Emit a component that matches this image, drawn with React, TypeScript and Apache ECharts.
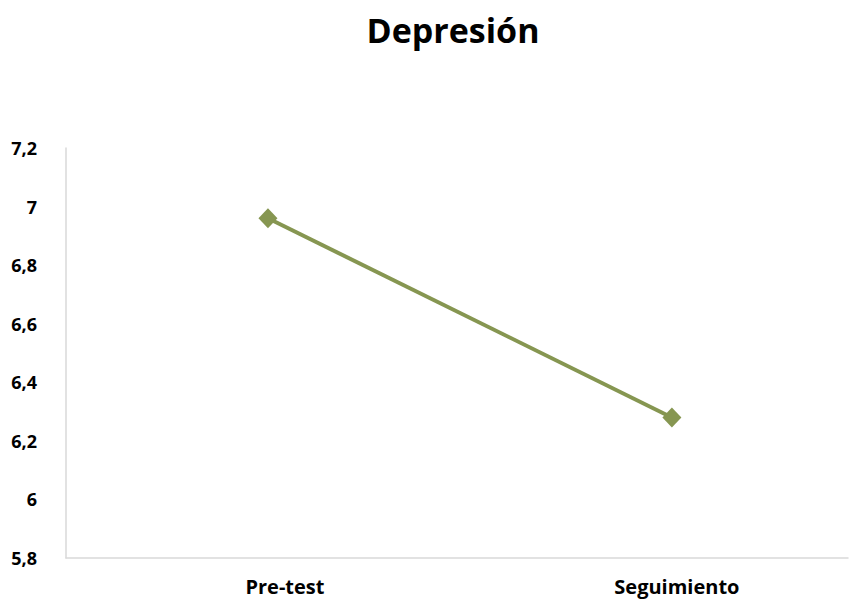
import React, { useEffect, useRef } from "react";
import * as echarts from "echarts";

const categories = ["Pre-test", "Seguimiento"];
const values = [6.96, 6.28];
const yTicks = { min: 5.8, max: 7.2, step: 0.2 };
const title = "Depresión";

export default function App() {
  const ref = useRef<HTMLDivElement>(null);
  useEffect(() => {
    if (!ref.current) return;
    const chart = echarts.init(ref.current, undefined, { renderer: "svg" });
    const fmtNum = (v: number) => {
      const r = Math.round(v * 10) / 10;
      return String(r).replace(".", ",");
    };
    chart.setOption({
      animation: false,
      title: {
        text: title,
        left: 448,
        top: 8,
        textAlign: "center",
        textStyle: { fontFamily: "Open Sans", fontWeight: "bold", fontSize: 34, color: "#000" },
      },
      grid: { left: 66, right: 14, top: 148, bottom: 44 },
      xAxis: {
        type: "value",
        min: -0.5,
        max: 1.436,
        interval: 0.5,
        splitLine: { show: false },
        axisTick: { show: false },
        axisLine: { show: true, onZero: false, lineStyle: { color: "#d9d9d9", width: 1.5 } },
        axisLabel: {
          margin: 18,
          fontFamily: "Open Sans",
          fontWeight: "bold",
          fontSize: 20,
          color: "#000",
          showMaxLabel: false,
          formatter: (v: number) => {
            const i = Math.round(v);
            if (Math.abs(v - i) > 1e-6 || !categories[i]) return "";
            return `{c${i}|${categories[i]}}`;
          },
          rich: {
            c0: { fontFamily: "Open Sans", fontWeight: "bold", fontSize: 20, color: "#000", padding: [0, 0, 0, 34] },
            c1: { fontFamily: "Open Sans", fontWeight: "bold", fontSize: 20, color: "#000", padding: [0, 0, 0, 10] },
          },
        },
      },
      yAxis: {
        type: "value",
        min: yTicks.min,
        max: yTicks.max,
        interval: yTicks.step,
        splitLine: { show: false },
        axisTick: { show: false },
        axisLine: { show: true, onZero: false, lineStyle: { color: "#d9d9d9", width: 1.5 } },
        axisLabel: {
          margin: 29,
          fontFamily: "Open Sans",
          fontWeight: "bold",
          fontSize: 18,
          color: "#000",
          formatter: fmtNum,
        },
      },
      series: [
        {
          type: "line",
          data: values.map((v, i) => [i, v]),
          symbol: "diamond",
          symbolSize: [19, 20],
          lineStyle: { color: "#869651", width: 4 },
          itemStyle: { color: "#869651" },
        },
      ],
    });
    return () => chart.dispose();
  }, []);
  return (
    <div
      ref={ref}
      style={{ position: "absolute", left: 0, top: 0, width: 862, height: 602 }}
    />
  );
}
